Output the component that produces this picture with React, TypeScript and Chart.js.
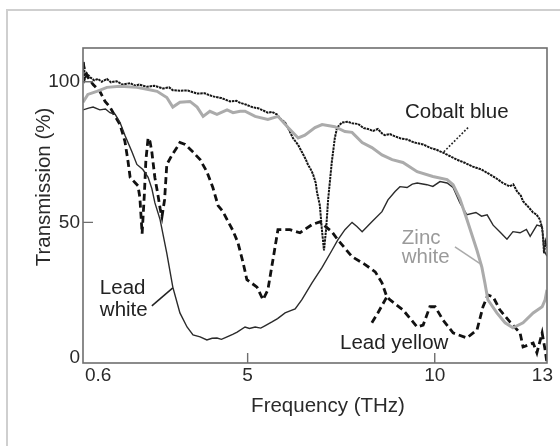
import React, { useEffect, useRef } from "react";
import { Chart, registerables } from "chart.js";

Chart.register(...registerables);

// ---- Data (frequency in THz, transmission in %) ----
const cobaltBlueX = [0.6, 0.62, 0.65, 0.7, 0.79, 0.9, 1.0, 1.1, 1.24, 1.35, 1.5, 1.65, 1.86, 2.0, 2.1, 2.31, 2.5, 2.74, 2.9, 3.0, 3.19, 3.4, 3.65, 3.85, 4.07, 4.3, 4.53, 4.7, 4.8, 4.95, 5.12, 5.3, 5.54, 5.65, 5.78, 5.9, 6.0, 6.1, 6.21, 6.35, 6.45, 6.55, 6.61, 6.7, 6.75, 6.82, 6.85, 6.93, 6.98, 7.04, 7.1, 7.15, 7.25, 7.33, 7.39, 7.52, 7.68, 7.8, 7.95, 8.1, 8.22, 8.35, 8.48, 8.6, 8.67, 8.8, 8.94, 9.1, 9.26, 9.45, 9.69, 9.9, 10.05, 10.22, 10.4, 10.59, 10.8, 11.02, 11.25, 11.48, 11.65, 11.82, 12.0, 12.1, 12.2, 12.3, 12.36, 12.5, 12.63, 12.72, 12.81, 12.87, 12.9, 12.92, 12.96, 13.0];
const cobaltBlueY = [104, 107, 101, 103, 101.6, 100.5, 101, 100, 101, 99.8, 100.2, 99, 99.5, 98.6, 99, 98.2, 98.6, 97.6, 98, 97, 96.8, 96.9, 95.8, 95.9, 94.8, 94.2, 93, 93.2, 92.5, 91.9, 91, 90.5, 89, 89.3, 88.4, 86.5, 85.5, 83, 80, 77.5, 75, 72.5, 70.6, 68.5, 67, 64, 61, 56, 48, 40, 48, 58, 71.6, 80, 83.7, 85.5, 85.8, 85.2, 85, 83.5, 83.2, 82.5, 83.2, 81.5, 81, 81.4, 80.6, 79.8, 79.5, 78.4, 77.7, 76.4, 75.8, 74.8, 73.6, 72.3, 71.2, 69.8, 68.8, 67, 65.6, 64, 62.8, 63.5, 61, 59.5, 57.5, 55.5, 53.5, 52.8, 51, 48, 44, 39, 43, 41];

const leadWhiteX = [0.6, 0.75, 0.87, 1.05, 1.2, 1.32, 1.46, 1.59, 1.72, 1.91, 2.04, 2.2, 2.34, 2.44, 2.52, 2.66, 2.84, 3.0, 3.19, 3.38, 3.54, 3.73, 3.91, 4.05, 4.18, 4.3, 4.45, 4.6, 4.72, 4.93, 5.05, 5.2, 5.35, 5.46, 5.65, 5.8, 6.0, 6.15, 6.27, 6.45, 6.72, 6.99, 7.25, 7.41, 7.6, 7.79, 7.92, 8.06, 8.32, 8.59, 8.75, 8.94, 9.07, 9.26, 9.4, 9.53, 9.79, 9.95, 10.14, 10.33, 10.49, 10.67, 10.86, 11.1, 11.25, 11.4, 11.56, 11.75, 11.93, 12.09, 12.28, 12.45, 12.55, 12.73, 12.87, 12.92, 13.0];
const leadWhiteY = [90, 90.6, 91, 90, 90.3, 89, 88.4, 85.5, 81, 75, 70.6, 68.8, 66, 62, 57, 51, 39, 27, 17.8, 12.8, 10, 9.3, 8.2, 8.8, 8.9, 8.4, 9.3, 10.2, 11, 12.8, 12.3, 12.8, 12.4, 13.2, 14.6, 15.8, 17.8, 18.6, 19.2, 22.5, 28.5, 34, 40, 43.8, 47.4, 50, 48.5, 46.7, 50.2, 53.8, 58, 61, 62.7, 62.4, 63.6, 64, 63.4, 62.8, 64.5, 64, 62.4, 57, 52.7, 53.5, 52.2, 52.7, 49, 46.5, 44, 46.7, 46.3, 47.5, 45, 49, 48.5, 40, 38];

const zincWhiteX = [0.6, 0.73, 0.97, 1.24, 1.59, 2.04, 2.31, 2.58, 2.84, 3.0, 3.19, 3.46, 3.65, 3.81, 3.99, 4.18, 4.45, 4.61, 4.8, 4.93, 5.2, 5.54, 5.81, 6.08, 6.35, 6.53, 6.8, 6.99, 7.33, 7.6, 7.79, 8.06, 8.32, 8.59, 8.86, 9.15, 9.53, 9.95, 10.33, 10.49, 10.67, 10.86, 11.13, 11.26, 11.34, 11.42, 11.66, 11.88, 12.09, 12.36, 12.63, 12.87, 12.95, 13.0];
const zincWhiteY = [92.7, 95.5, 96.6, 98, 98.4, 98, 97.3, 96.6, 94.4, 91, 92.7, 93, 91, 87.7, 89.5, 88.4, 90, 89, 89.5, 89.5, 87.7, 86.6, 87.7, 83.7, 80, 81, 83.7, 84.8, 84, 82.3, 82, 78.4, 76.6, 74, 72.3, 71.3, 68, 66.3, 65.2, 63.4, 58.5, 51, 40, 34, 28.5, 22.5, 17.8, 14.3, 12.5, 14.3, 17.8, 20, 22.5, 26];

const leadYellowX = [0.6, 0.65, 0.73, 0.87, 1.05, 1.19, 1.32, 1.46, 1.59, 1.72, 1.8, 1.86, 2.0, 2.07, 2.12, 2.18, 2.24, 2.28, 2.34, 2.39, 2.44, 2.52, 2.6, 2.66, 2.71, 2.78, 2.84, 2.98, 3.11, 3.19, 3.33, 3.54, 3.73, 3.91, 4.07, 4.21, 4.34, 4.45, 4.61, 4.74, 4.88, 4.98, 5.25, 5.41, 5.54, 5.68, 5.81, 6.13, 6.4, 6.72, 6.93, 7.25, 7.41, 7.79, 8.14, 8.41, 8.59, 8.72, 8.8, 9.15, 9.53, 9.69, 9.87, 10.01, 10.22, 10.49, 10.86, 11.13, 11.29, 11.42, 11.56, 11.74, 12.01, 12.28, 12.36, 12.63, 12.73, 12.87, 12.95, 13.0];
const leadYellowY = [107, 103.7, 101.6, 99, 96.6, 93, 91, 87.7, 84.8, 78.8, 72, 66, 64, 63, 58.8, 46, 60, 72, 80, 78.8, 75, 66, 60, 55, 52, 58, 70.6, 74, 76.6, 78.4, 77.7, 75, 72.3, 68, 62.4, 56, 53.8, 51, 47, 42.8, 35.6, 29.6, 27, 22.5, 26, 37, 47.4, 47.4, 46.3, 49.2, 50.2, 46.7, 43.8, 37.8, 35, 32.4, 28.5, 23.5, 22.5, 18.9, 12.8, 13.5, 20, 20, 15.3, 10.7, 8.9, 11.8, 20, 24.2, 23.5, 18.9, 14.6, 10.7, 5.7, 7.1, 3.6, 10.7, 4.6, 0];
const leadYellowBranchX = [8.32, 8.48, 8.72];
const leadYellowBranchY = [14.3, 17.8, 23.5];

const xTickValues = [0.6, 5, 10, 13];
const xTickLabels = ["0.6", "5", "10", "13"];
const xTickMarks = [5, 10];
const yTickValues = [0, 50, 100];
const yTickLabels = ["0", "50", "100"];
const yTickMarks = [50, 100];

const xTitle = "Frequency (THz)";
const yTitle = "Transmission (%)";

const pts = (xs: number[], ys: number[]) => xs.map((x, i) => ({ x, y: ys[i] }));

const FONT = '"Liberation Sans", Arial, Helvetica, sans-serif';

const decorPlugin = {
  id: "decor",
  afterDatasetsDraw(chart: any) {
    const { ctx, chartArea } = chart;
    const xs = chart.scales.x;
    const ys = chart.scales.y;
    const { left, right, top, bottom } = chartArea;
    const W = chart.width;
    const H = chart.height;
    ctx.save();

    // outer light frame
    ctx.strokeStyle = "#cfcfcf";
    ctx.lineWidth = 2;
    ctx.beginPath();
    ctx.moveTo(7, H);
    ctx.lineTo(7, 10);
    ctx.lineTo(W, 10);
    ctx.stroke();

    // plot frame
    ctx.strokeStyle = "#6e6e6e";
    ctx.lineWidth = 1.6;
    ctx.strokeRect(left, top, right - left, bottom - top);

    // tick marks (inward)
    ctx.lineWidth = 1.4;
    ctx.beginPath();
    yTickMarks.forEach((v) => {
      const py = ys.getPixelForValue(v);
      ctx.moveTo(left, py);
      ctx.lineTo(left + 10, py);
    });
    xTickMarks.forEach((v) => {
      const px = xs.getPixelForValue(v);
      ctx.moveTo(px, bottom);
      ctx.lineTo(px, bottom - 10);
    });
    ctx.stroke();

    // tick labels
    ctx.fillStyle = "#2a2a2a";
    ctx.font = `19px ${FONT}`;
    ctx.textBaseline = "middle";
    ctx.textAlign = "right";
    yTickValues.forEach((v, i) => {
      const py = Math.min(ys.getPixelForValue(v), bottom - 5);
      ctx.fillText(yTickLabels[i], left - 3, py);
    });
    ctx.textAlign = "center";
    xTickValues.forEach((v, i) => {
      const w = ctx.measureText(xTickLabels[i]).width;
      let px = xs.getPixelForValue(v);
      px = Math.max(px, left + 2 + w / 2);
      px = Math.min(px, W - 7 - w / 2);
      ctx.fillText(xTickLabels[i], px, bottom + 13);
    });

    // axis titles
    ctx.font = `20.5px ${FONT}`;
    ctx.fillText(xTitle, (left + right) / 2 + 13, bottom + 43);
    ctx.save();
    ctx.translate(44, 187);
    ctx.rotate(-Math.PI / 2);
    ctx.fillText(yTitle, 0, 0);
    ctx.restore();

    const P = (fx: number, ty: number) => [xs.getPixelForValue(fx), ys.getPixelForValue(ty)];

    // annotations
    ctx.textAlign = "center";
    ctx.fillStyle = "#222";
    let [ax, ay] = P(10.59, 89.1);
    ctx.fillText("Cobalt blue", ax, ay);

    ctx.strokeStyle = "#222";
    ctx.lineWidth = 1.6;
    ctx.setLineDash([1.8, 1.8]);
    ctx.beginPath();
    [ax, ay] = P(10.89, 83.7);
    ctx.moveTo(ax, ay);
    [ax, ay] = P(10.22, 74.8);
    ctx.lineTo(ax, ay);
    ctx.stroke();
    ctx.setLineDash([]);

    ctx.textAlign = "left";
    ctx.fillStyle = "#9a9a9a";
    [ax, ay] = P(9.12, 44.2);
    ctx.fillText("Zinc", ax, ay);
    [ax, ay] = P(9.12, 37.4);
    ctx.fillText("white", ax, ay);
    ctx.strokeStyle = "#aaaaaa";
    ctx.lineWidth = 1.6;
    ctx.beginPath();
    [ax, ay] = P(10.54, 41.3);
    ctx.moveTo(ax, ay);
    [ax, ay] = P(11.26, 34.9);
    ctx.lineTo(ax, ay);
    ctx.stroke();

    ctx.fillStyle = "#222";
    [ax, ay] = P(1.05, 26.4);
    ctx.fillText("Lead", ax, ay);
    [ax, ay] = P(1.05, 18.9);
    ctx.fillText("white", ax, ay);
    ctx.strokeStyle = "#222";
    ctx.lineWidth = 1.5;
    ctx.beginPath();
    [ax, ay] = P(2.44, 20.3);
    ctx.moveTo(ax, ay);
    [ax, ay] = P(3.0, 26.7);
    ctx.lineTo(ax, ay);
    ctx.stroke();

    [ax, ay] = P(7.47, 7.1);
    ctx.fillText("Lead yellow", ax, ay);

    ctx.restore();
  },
};

export default function App() {
  const ref = useRef<HTMLCanvasElement | null>(null);

  useEffect(() => {
    if (!ref.current) return;
    const common = { pointRadius: 0, tension: 0, fill: false };
    const chart = new Chart(ref.current, {
      type: "line",
      data: {
        datasets: [
          {
            label: "Zinc white",
            data: pts(zincWhiteX, zincWhiteY),
            borderColor: "#ababab",
            borderWidth: 3,
            ...common,
          },
          {
            label: "Lead white",
            data: pts(leadWhiteX, leadWhiteY),
            borderColor: "#2b2b2b",
            borderWidth: 1.4,
            ...common,
          },
          {
            label: "Cobalt blue",
            data: pts(cobaltBlueX, cobaltBlueY),
            borderColor: "#151515",
            borderWidth: 2,
            borderDash: [2.5, 0.8],
            ...common,
          },
          {
            label: "Lead yellow",
            data: pts(leadYellowX, leadYellowY),
            borderColor: "#111",
            borderWidth: 2.8,
            borderDash: [7, 4],
            ...common,
          },
          {
            label: "Lead yellow (branch)",
            data: pts(leadYellowBranchX, leadYellowBranchY),
            borderColor: "#111",
            borderWidth: 2.8,
            borderDash: [7, 4],
            ...common,
          },
        ],
      },
      options: {
        responsive: false,
        animation: false,
        devicePixelRatio: 1,
        layout: { padding: { left: 83, right: 13, top: 48, bottom: 83 } },
        plugins: { legend: { display: false }, tooltip: { enabled: false } },
        scales: {
          x: { type: "linear", min: 0.6, max: 13, display: false },
          y: { type: "linear", min: 0, max: 112, display: false },
        },
      },
      plugins: [decorPlugin],
    });
    return () => chart.destroy();
  }, []);

  return (
    <div style={{ position: "fixed", left: 0, top: 0, width: 560, height: 446, background: "#fff" }}>
      <canvas ref={ref} width={560} height={446} style={{ display: "block" }} />
    </div>
  );
}
